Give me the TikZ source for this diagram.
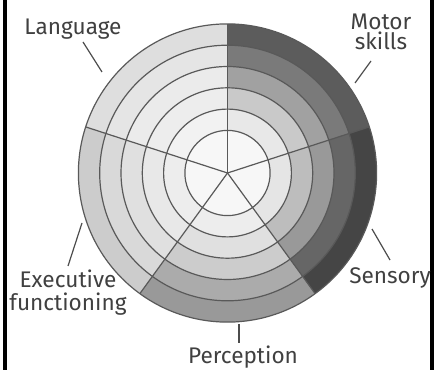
\documentclass[tikz,border=0pt]{standalone}
\usepackage{fontspec}
\setmainfont{Fira Sans}
\usepackage{tikz}
\usetikzlibrary{positioning}

\begin{document}
\begin{tikzpicture}[x=0.5pt,y=0.5pt,
  ring/.style={draw=black!65,line width=0.6pt},
  lbl/.style={font=\fontsize{11.3}{10}\selectfont,text=black!75,inner sep=0pt},
  tick/.style={draw=black!70,line width=0.6pt}]
  \useasboundingbox (0,0) rectangle (434,370);
  \fill[black] (3,0) rectangle (7,370);
  \fill[black] (429.5,0) rectangle (433.5,370);
  \begin{scope}[shift={(227.5,197)}]
    \fill[black!3] (0,0) circle[radius=42.6];
    % sectors: start angle / shades from inner ring to outer ring
    \foreach \a/\shades in {18/{9,21,37,52,64}, 90/{5,7,8,10,13}, 162/{7,9,12,15,20}, 234/{7,12,20,33,40}, 306/{10,26,40,60,73}}{
      \foreach \s [count=\k] in \shades {
        \pgfmathsetmacro{\ri}{21.3*(\k+1)}
        \pgfmathsetmacro{\ro}{21.3*(\k+2)}
        \fill[black!\s] (\a:\ri) arc[start angle=\a,end angle=\a+72,radius=\ri]
          -- (\a+72:\ro) arc[start angle=\a+72,end angle=\a,radius=\ro] -- cycle;
      }
    }
    \foreach \k in {2,...,7} \draw[ring] (0,0) circle[radius=21.3*\k];
    \foreach \a in {18,90,162,234,306} \draw[ring] (0,0) -- (\a:149.1);
  \end{scope}
  % labels (base of a two-line label is its last line)
  \node[lbl,anchor=base] (lang) at (73,335) {Language};
  \node[lbl,anchor=base,align=center] (motor) at (381,320) {Motor\\skills};
  \node[lbl,anchor=base] (sens) at (390,87) {Sensory};
  \node[lbl,anchor=base] (perc) at (243,7) {Perception};
  \node[lbl,anchor=base,align=center,font=\fontsize{11.3}{11.5}\selectfont] (exec) at (68,60) {Executive\\functioning};
  % ticks
  \coordinate (lang-a) at (83,328);   \coordinate (lang-b) at (102,298);
  \coordinate (motor-a) at (371,309); \coordinate (motor-b) at (355,287);
  \coordinate (sens-a) at (372,141);  \coordinate (sens-b) at (390,110);
  \coordinate (perc-a) at (239,46);   \coordinate (perc-b) at (239,27);
  \coordinate (exec-a) at (82,147);   \coordinate (exec-b) at (68,104);
  \draw[tick] (lang-a) -- (lang-b);
  \draw[tick] (motor-a) -- (motor-b);
  \draw[tick] (sens-a) -- (sens-b);
  \draw[tick] (perc-a) -- (perc-b);
  \draw[tick] (exec-a) -- (exec-b);
\end{tikzpicture}
\end{document}
